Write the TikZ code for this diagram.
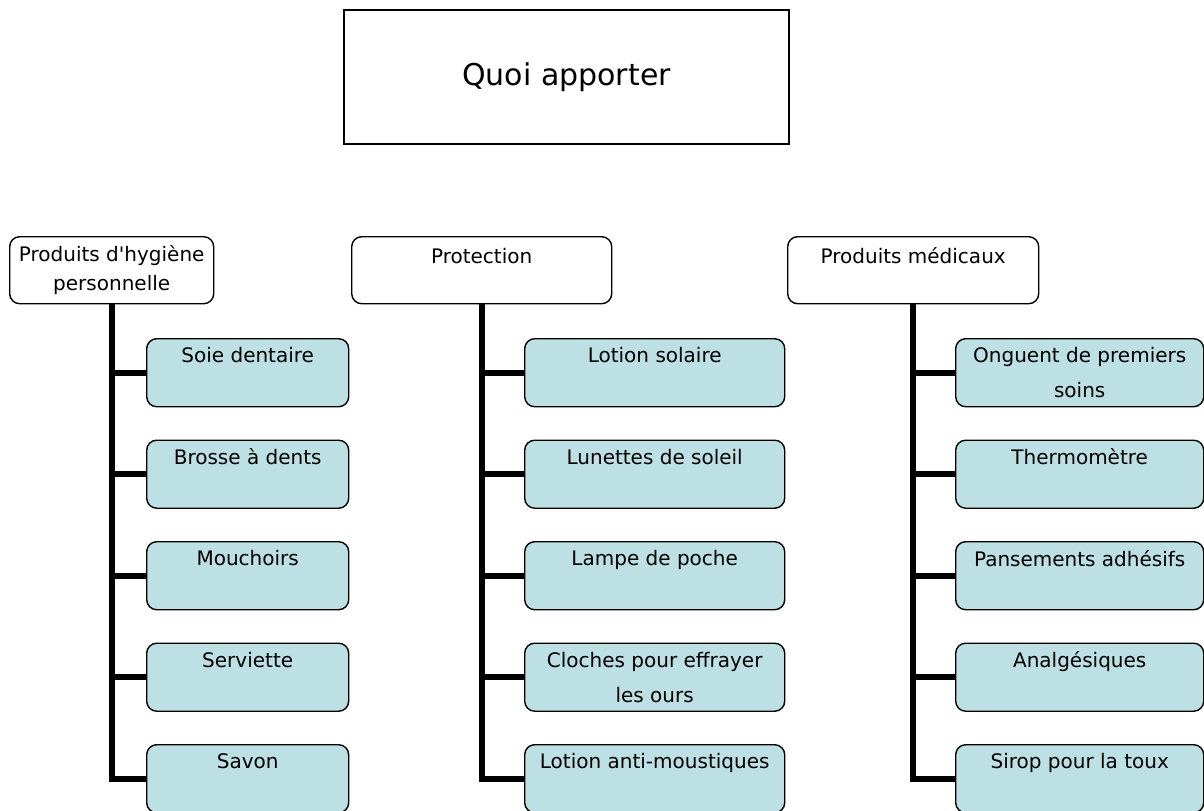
\documentclass[tikz,border=0pt]{standalone}
\usepackage{fontspec}
\setmainfont{DejaVu Sans}
\usepackage{xcolor}
\definecolor{itemblue}{HTML}{BCE0E4}
\usetikzlibrary{positioning}

\begin{document}
\begin{tikzpicture}[x=0.5pt, y=-0.5pt,
    topbox/.style={draw, line width=1pt, minimum width=222.5pt,
      minimum height=67pt, font=\fontsize{15}{18}\selectfont},
    catbox/.style={draw, line width=0.7pt, rounded corners=5pt, fill=white,
      minimum height=33.5pt, inner ysep=0pt, align=center,
      anchor=north west, font=\fontsize{10}{14.5}\selectfont,
      execute at begin node=\rule{0pt}{10pt}},
    itembox/.style={draw, line width=0.7pt, rounded corners=5pt,
      fill=itemblue, minimum height=34pt, inner ysep=0pt, align=center,
      anchor=north west, font=\fontsize{10}{17.5}\selectfont,
      execute at begin node=\rule{0pt}{10.6pt}},
    trunk/.style={line width=3pt}]
    \useasboundingbox (0,0) rectangle (1204,810);

    \node[topbox] (quoi) at (566.5,77) {Quoi apporter};

    \node[catbox, minimum width=102pt] (hyg) at (9,236)
      {Produits d\textquotesingle hygiène\\personnelle};
    \node[catbox, minimum width=130pt] (prot) at (351,236)
      {Protection\\\mbox{}};
    \node[catbox, minimum width=125.5pt] (med) at (787,236)
      {Produits médicaux\\\mbox{}};

    \foreach \txt/\sub [count=\i from 0] in {Soie dentaire/\mbox{},
        Brosse à dents/\mbox{}, Mouchoirs/\mbox{}, Serviette/\mbox{},
        Savon/\mbox{}}
      \node[itembox, minimum width=101pt] (hyg\i) at (146,338+101.5*\i)
        {\txt\\\sub};

    \foreach \txt/\sub [count=\i from 0] in {Lotion solaire/\mbox{},
        Lunettes de soleil/\mbox{}, Lampe de poche/\mbox{},
        Cloches pour effrayer/les ours, Lotion anti-moustiques/\mbox{}}
      \node[itembox, minimum width=130pt] (prot\i) at (524,338+101.5*\i)
        {\txt\\\sub};

    \foreach \txt/\sub [count=\i from 0] in {Onguent de premiers/soins,
        Thermomètre/\mbox{}, Pansements adhésifs/\mbox{},
        Analgésiques/\mbox{}, Sirop pour la toux/\mbox{}}
      \node[itembox, minimum width=124pt] (med\i) at (955,338+101.5*\i)
        {\txt\\\sub};

    % trunks and branches
    \foreach \col in {hyg, prot, med} {
      \draw[trunk] (\col.south) |- (\col4.west);
      \foreach \i in {0,...,3}
        \draw[trunk] (\col.south |- \col\i.west) -- (\col\i.west);
    }
\end{tikzpicture}
\end{document}
